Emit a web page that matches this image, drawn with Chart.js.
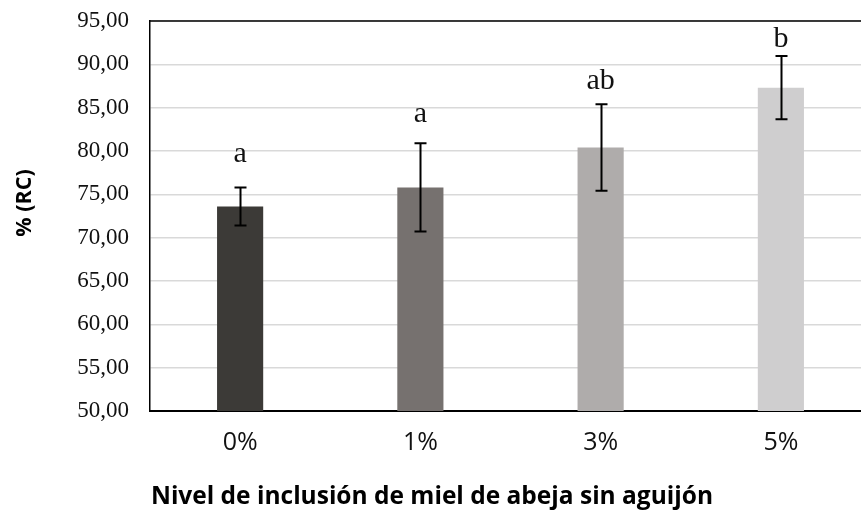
<!DOCTYPE html>
<html lang="es">
<head>
<meta charset="utf-8">
<title>% (RC)</title>
<script src="https://cdn.jsdelivr.net/npm/chart.js@4.4.1/dist/chart.umd.min.js"></script>
<style>
  html, body { margin: 0; padding: 0; background: #fff; overflow: hidden; }
  #wrap { width: 890px; height: 516px; }
</style>
</head>
<body>
<div id="wrap"><canvas id="rc" width="890" height="516"></canvas></div>
<script>
const categories = ['0%', '1%', '3%', '5%'];
const means      = [73.6, 75.8, 80.4, 87.3];
const stdErr     = [2.2, 5.1, 5.0, 3.65];
// Tukey letters and the height (in % units) where each one sits
const letters    = ['a', 'a', 'ab', 'b'];
const letterAt   = [78.7, 83.3, 87.1, 92.0];
const yMin = 50, yMax = 95, yStep = 5;

const barColors = ['#3c3a37', '#76716f', '#afacab', '#cfcecf'];
const serif = '"Liberation Serif", "Times New Roman", serif';
const sans  = '"Open Sans", "Liberation Sans", sans-serif';

const fmtComma = (v) => v.toFixed(2).replace('.', ',');

// error bars, letters, top edge and axis titles
const extras = {
  id: 'extras',
  afterDatasetsDraw(chart) {
    const { ctx, chartArea: a, scales: { y } } = chart;
    const meta = chart.getDatasetMeta(0);

    ctx.save();
    ctx.strokeStyle = '#000';
    ctx.lineWidth = 2;
    meta.data.forEach((bar, i) => {
      const x = Math.round(bar.x) + 0.5;
      const top = y.getPixelForValue(means[i] + stdErr[i]);
      const bot = y.getPixelForValue(means[i] - stdErr[i]);
      ctx.beginPath();
      ctx.moveTo(x, top); ctx.lineTo(x, bot);
      ctx.moveTo(x - 6, top); ctx.lineTo(x + 6, top);
      ctx.moveTo(x - 6, bot); ctx.lineTo(x + 6, bot);
      ctx.stroke();
    });

    ctx.fillStyle = '#111';
    ctx.font = '30px ' + serif;
    ctx.textAlign = 'center';
    ctx.textBaseline = 'alphabetic';
    meta.data.forEach((bar, i) => {
      ctx.fillText(letters[i], bar.x, y.getPixelForValue(letterAt[i]));
    });

    ctx.lineWidth = 1.5;
    ctx.beginPath();
    ctx.moveTo(a.left, a.top);
    ctx.lineTo(a.right, a.top);
    ctx.stroke();
    ctx.restore();
  },
  afterDraw(chart) {
    const { ctx } = chart;
    ctx.save();
    ctx.fillStyle = '#000';
    ctx.font = 'bold 24.5px ' + sans;
    ctx.textAlign = 'center';
    ctx.textBaseline = 'middle';
    ctx.fillText('Nivel de inclusión de miel de abeja sin aguijón', 432, 497);

    ctx.translate(25, 203);
    ctx.rotate(-Math.PI / 2);
    ctx.font = 'bold 21.5px ' + sans;
    ctx.fillText('% (RC)', 0, 0);
    ctx.restore();
  }
};

new Chart(document.getElementById('rc'), {
  type: 'bar',
  data: {
    labels: categories,
    datasets: [{
      data: means,
      backgroundColor: barColors,
      borderWidth: 0,
      categoryPercentage: 1,
      barPercentage: 0.256
    }]
  },
  options: {
    responsive: false,
    animation: false,
    devicePixelRatio: 1,
    layout: { padding: { top: 21, right: 19, left: 0, bottom: 0 } },
    plugins: {
      legend: { display: false },
      tooltip: { enabled: false }
    },
    scales: {
      x: {
        grid: { display: false, drawTicks: false },
        border: { display: true, color: '#000', width: 2 },
        ticks: { color: '#111', padding: 17, font: { family: sans, size: 25 } },
        afterFit(s) { s.height = 105; s.paddingLeft = 0; s.paddingRight = 0; }
      },
      y: {
        min: yMin,
        max: yMax,
        grid: { color: '#d9d9d9', lineWidth: 1.5, drawTicks: false },
        border: { display: true, color: '#000', width: 1.5 },
        ticks: {
          stepSize: yStep,
          color: '#111',
          padding: 21,
          font: { family: serif, size: 23 },
          callback: (v) => fmtComma(v)
        },
        afterFit(s) { s.width = 150; s.paddingTop = 0; s.paddingBottom = 0; }
      }
    }
  },
  plugins: [extras]
});
</script>
</body>
</html>
